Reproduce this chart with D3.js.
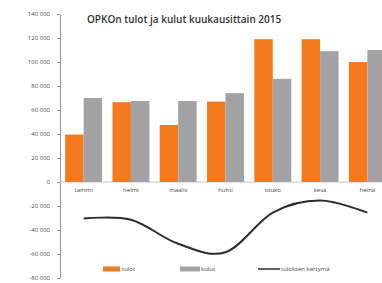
<!DOCTYPE html>
<html>
<head>
<meta charset="utf-8">
<script src="https://cdn.jsdelivr.net/npm/d3@7"></script>
<style>
  html, body { margin: 0; padding: 0; background: #ffffff; }
  svg { display: block; }
</style>
</head>
<body>
<div id="chart"></div>
<script>
// ── Data ──
var MONTHS = ['tammi', 'helmi', 'maalis', 'huhti', 'touko', 'kesä', 'heinä'];
var TULOT = [39500, 66500, 47500, 67000, 119000, 119000, 100000];
var KULUT = [70000, 67500, 67500, 74000, 86000, 109000, 110000];
var KERTYMA = [-30500, -31500, -51500, -58500, -25500, -15500, -25500];
var Y_TICKS = [-80000, -60000, -40000, -20000, 0, 20000, 40000, 60000, 80000, 100000, 120000, 140000];
var TITLE = 'OPKOn tulot ja kulut kuukausittain 2015';
var LEGEND = ['tulot', 'kulut', 'tuloksen kertymä'];

// ── Style ──
var W = 382, H = 283;
var ORANGE = '#f47a20';
var GREY = '#a3a3a5';
var LINE = '#2b2b2b';
var TEXT = '#474747';
var FONT = 'Open Sans, Liberation Sans, sans-serif';

var svg = d3.select('#chart').append('svg')
  .attr('width', W).attr('height', H);

var y = d3.scaleLinear().domain([-80000, 140000]).range([278, 14]);
var x = d3.scaleBand().domain(MONTHS).range([60, 391]).padding(0);
var xSub = d3.scaleBand().domain(['tulot', 'kulut'])
  .range([0, x.bandwidth()]).paddingInner(0).paddingOuter(0.28);

var fmt = d3.formatLocale({ decimal: ',', thousands: ' ', grouping: [3], currency: ['', ''], minus: '-' }).format(',');

// y axis
var yAxis = svg.append('g')
  .attr('transform', 'translate(60,0)')
  .call(d3.axisLeft(y).tickValues(Y_TICKS).tickFormat(fmt).tickSize(3).tickSizeOuter(0));
yAxis.select('.domain').attr('stroke', '#9a9a9a');
yAxis.selectAll('.tick line').attr('stroke', '#9a9a9a');
yAxis.selectAll('text')
  .attr('x', -10)
  .attr('font-size', '6px')
  .attr('font-family', FONT)
  .attr('fill', TEXT);

// zero line
svg.append('line')
  .attr('x1', 60).attr('x2', W)
  .attr('y1', y(0)).attr('y2', y(0))
  .attr('stroke', '#c8c8c8').attr('stroke-width', 1);

// bars
var groups = svg.append('g').selectAll('g')
  .data(MONTHS)
  .join('g')
  .attr('transform', function (d) { return 'translate(' + x(d) + ',0)'; });

groups.append('rect')
  .attr('x', xSub('tulot'))
  .attr('width', xSub.bandwidth())
  .attr('y', function (d, i) { return y(TULOT[i]); })
  .attr('height', function (d, i) { return y(0) - y(TULOT[i]); })
  .attr('fill', ORANGE);

groups.append('rect')
  .attr('x', xSub('kulut'))
  .attr('width', xSub.bandwidth())
  .attr('y', function (d, i) { return y(KULUT[i]); })
  .attr('height', function (d, i) { return y(0) - y(KULUT[i]); })
  .attr('fill', GREY);

// category labels
svg.append('g').selectAll('text')
  .data(MONTHS)
  .join('text')
  .attr('x', function (d) { return x(d) + x.bandwidth() / 2; })
  .attr('y', y(0) + 10)
  .attr('text-anchor', 'middle')
  .attr('font-size', '6px')
  .attr('font-family', FONT)
  .attr('fill', TEXT)
  .text(function (d) { return d; });

// cumulative line (smoothed like Excel)
var line = d3.line()
  .x(function (d, i) { return x(MONTHS[i]) + x.bandwidth() / 2; })
  .y(function (d) { return y(d); })
  .curve(d3.curveCardinal.tension(0));

svg.append('path')
  .datum(KERTYMA)
  .attr('d', line)
  .attr('fill', 'none')
  .attr('stroke', LINE)
  .attr('stroke-width', 2);

// title
svg.append('text')
  .attr('x', 87).attr('y', 23)
  .attr('font-size', '10px')
  .attr('font-weight', 600)
  .attr('font-family', FONT)
  .attr('fill', '#333')
  .text(TITLE);

// legend
var legendY = 269;
var lg = svg.append('g').attr('font-family', FONT).attr('font-size', '6px').attr('fill', TEXT);
lg.append('rect').attr('x', 103).attr('y', legendY - 2.5).attr('width', 17).attr('height', 5).attr('fill', ORANGE);
lg.append('text').attr('x', 122).attr('y', legendY + 2).text(LEGEND[0]);
lg.append('rect').attr('x', 180).attr('y', legendY - 2.5).attr('width', 20).attr('height', 5).attr('fill', GREY);
lg.append('text').attr('x', 201).attr('y', legendY + 2).text(LEGEND[1]);
lg.append('line').attr('x1', 258).attr('x2', 280).attr('y1', legendY).attr('y2', legendY)
  .attr('stroke', LINE).attr('stroke-width', 1.5);
lg.append('text').attr('x', 281).attr('y', legendY + 2).text(LEGEND[2]);
</script>
</body>
</html>
